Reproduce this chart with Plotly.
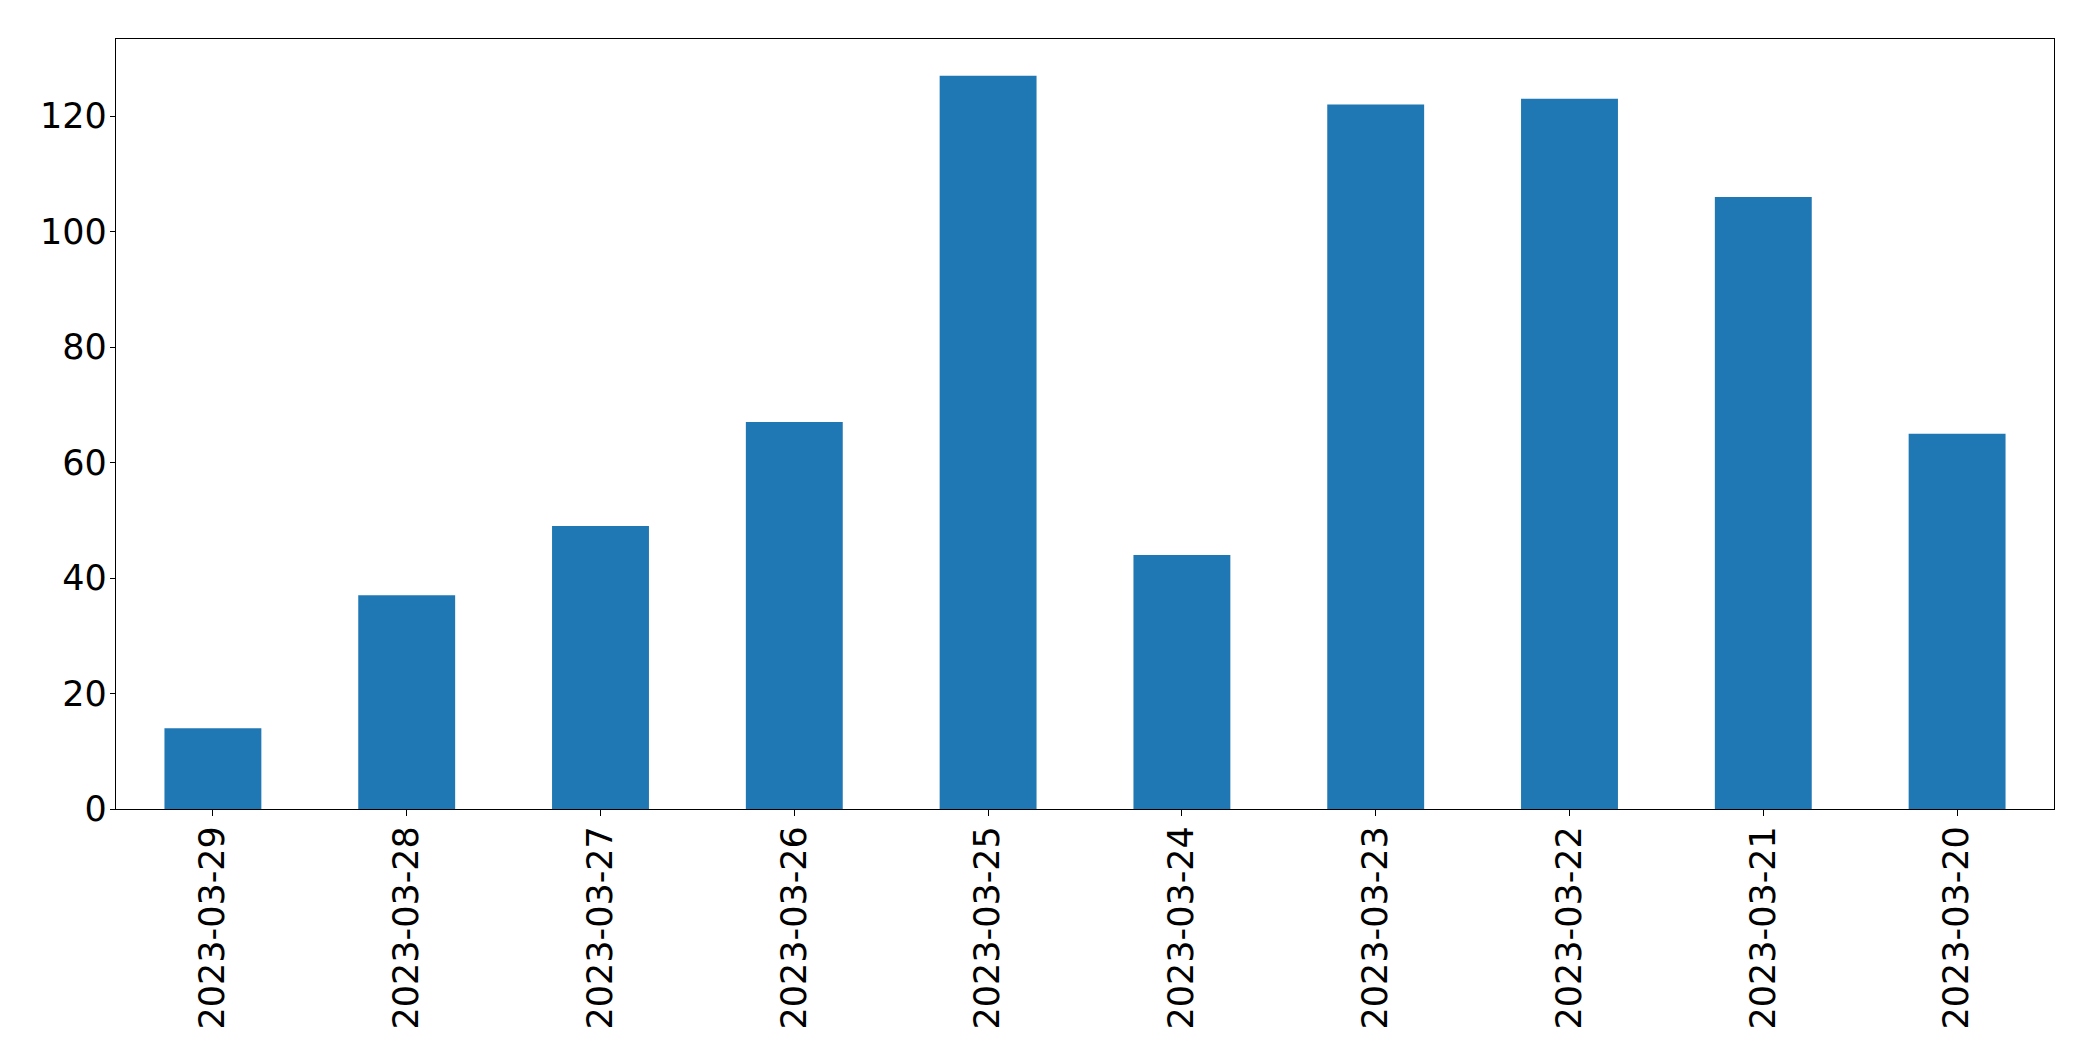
import plotly.graph_objects as go

dates = ["2023-03-29", "2023-03-28", "2023-03-27", "2023-03-26", "2023-03-25",
         "2023-03-24", "2023-03-23", "2023-03-22", "2023-03-21", "2023-03-20"]
counts = [14, 37, 49, 67, 127, 44, 122, 123, 106, 65]
y_ticks = [0, 20, 40, 60, 80, 100, 120]

fig = go.Figure(go.Bar(x=dates, y=counts, marker=dict(color="#1f77b4", line=dict(width=0)), width=0.5))

fig.update_layout(
    width=2093, height=1061,
    margin=dict(l=116, r=39, t=39, b=252),
    paper_bgcolor="white", plot_bgcolor="white",
    font=dict(family="DejaVu Sans", size=35, color="black"),
    showlegend=False,
    bargap=0.5,
)
fig.update_xaxes(
    type="category", range=[-0.5, len(dates) - 0.5],
    tickangle=-90, showline=True, mirror=True, linecolor="black", linewidth=1.3,
    ticks="outside", ticklen=6, tickwidth=1.3, tickcolor="black",
    showgrid=False, zeroline=False, ticklabelstandoff=-4,
)
fig.update_yaxes(
    range=[0, max(counts) * 1.05], tickvals=y_ticks,
    showline=True, mirror=True, linecolor="black", linewidth=1.3,
    ticks="outside", ticklen=5, tickwidth=1.3, tickcolor="black",
    showgrid=False, zeroline=False, ticklabelstandoff=-4,
)

fig.write_html("out.html")
